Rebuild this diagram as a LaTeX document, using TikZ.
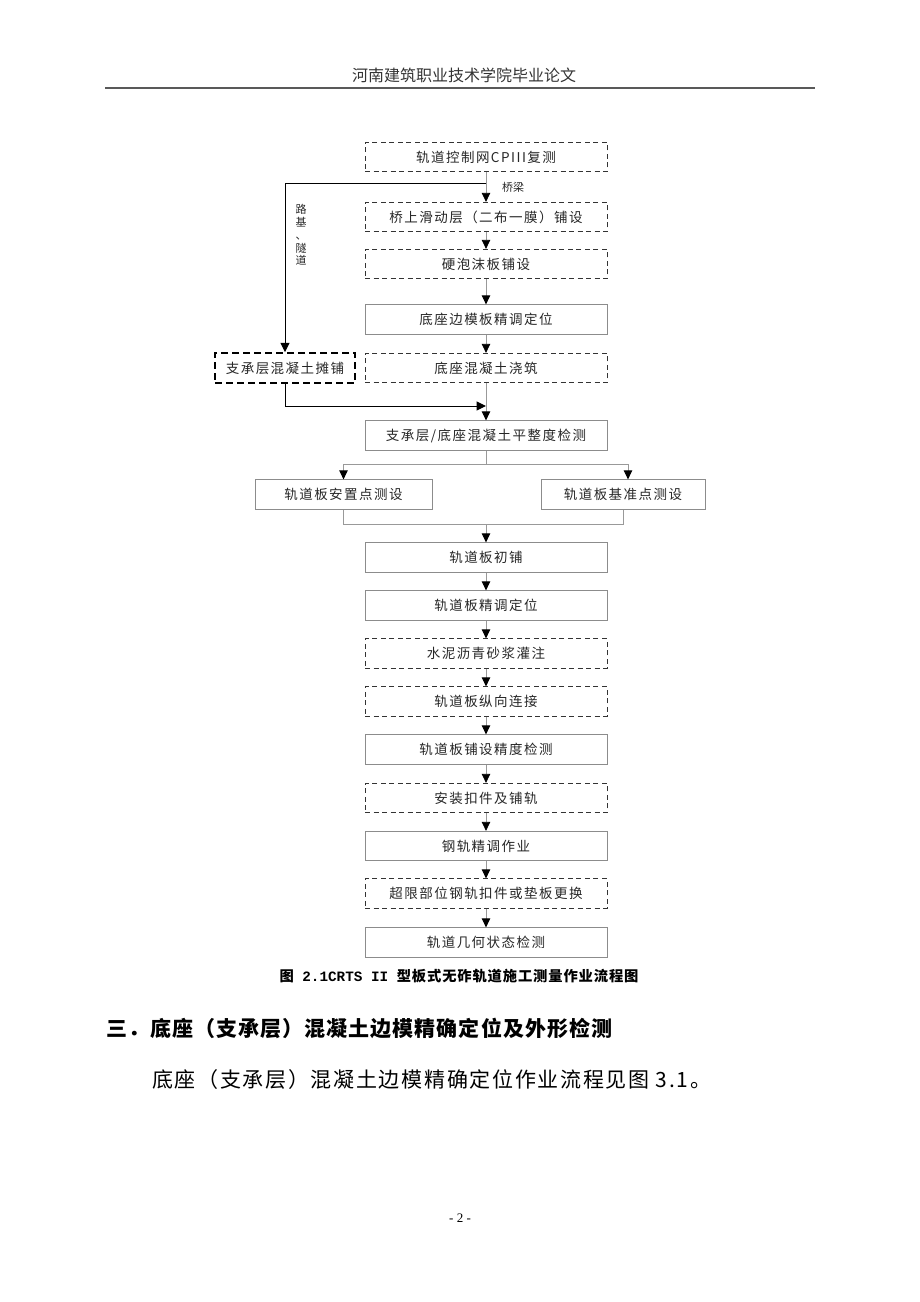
\documentclass[tikz,border=0pt]{standalone}
\usepackage{fontspec}
\setmainfont{Noto Sans CJK SC}
\newfontfamily\cjk{Noto Sans CJK SC}
\newfontfamily\cjksp{Noto Sans CJK SC}[LetterSpace=11]
\newfontfamily\cjkcap{Noto Sans CJK SC}[LetterSpace=6]
\newfontfamily\cjkhd{Noto Sans CJK SC}[LetterSpace=5]
\newfontfamily\cjkpar{Noto Sans CJK SC}[LetterSpace=8]
\newfontfamily\latmono{Liberation Mono}
\newfontfamily\pgnum{Liberation Serif}
\usetikzlibrary{arrows.meta}
\begin{document}
\begin{tikzpicture}[x=1pt,y=-1pt,
  every node/.style={inner sep=0pt,text=black!85},
  sbox/.style={draw=black!45,line width=0.8pt,minimum width=242pt,minimum height=29.5pt,font=\cjksp\fontsize{13.5}{16}\selectfont},
  dbox/.style={sbox,draw=black!80,dash pattern=on 5pt off 3.5pt},
  gline/.style={draw=black!40,line width=0.8pt},
  arr/.style={gline,-{Triangle[length=9pt,width=8.5pt,color=black]}},
  blk/.style={draw=black,line width=1pt,-{Triangle[length=9.5pt,width=9pt,color=black]}}
]
\useasboundingbox (0,0) rectangle (920,1302);
% header
\node[font=\cjk\fontsize{16}{18}\selectfont,text=black!80] (hdr) at (464,75) {河南建筑职业技术学院毕业论文};
\draw[black!65,line width=1.6pt] (105,88) -- (815,88);
% main column
\node[dbox] (b1) at (486,157) {轨道控制网CPIII复测};
\node[dbox] (b2) at (486,217) {桥上滑动层（二布一膜）铺设};
\node[dbox] (b3) at (486,264) {硬泡沫板铺设};
\node[sbox] (b4) at (486,319.5) {底座边模板精调定位};
\node[dbox] (b5) at (486,368) {底座混凝土浇筑};
\node[dbox,draw=black,line width=1.5pt,dash pattern=on 7pt off 4pt,minimum width=140pt,minimum height=30pt] (lb) at (285,368) {支承层混凝土摊铺};
\node[sbox] (b6) at (486,435.5) {支承层/底座混凝土平整度检测};
\node[sbox,minimum width=177pt] (sa) at (343.5,494.5) {轨道板安置点测设};
\node[sbox,minimum width=164pt] (sb) at (623,494.5) {轨道板基准点测设};
\node[sbox] (b7) at (486,557.5) {轨道板初铺};
\node[sbox] (b8) at (486,605.5) {轨道板精调定位};
\node[dbox] (b9) at (486,653.5) {水泥沥青砂浆灌注};
\node[dbox] (b10) at (486,701.5) {轨道板纵向连接};
\node[sbox] (b11) at (486,749.5) {轨道板铺设精度检测};
\node[dbox] (b12) at (486,798) {安装扣件及铺轨};
\node[sbox] (b13) at (486,846) {钢轨精调作业};
\node[dbox] (b14) at (486,893.5) {超限部位钢轨扣件或垫板更换};
\node[sbox] (b15) at (486,942.5) {轨道几何状态检测};
% labels
\node[font=\cjk\fontsize{11}{13}\selectfont] (lq) at (513,187) {桥梁};
\node[font=\cjk\fontsize{11}{12.8}\selectfont,align=center] (ls) at (301,235) {路\\基\\、\\隧\\道};
% connectors
\coordinate (j1) at (486,183);
\coordinate (j2) at (486,406);
\coordinate (s1) at (486,464);
\coordinate (m1) at (486,524);
\draw[arr] (b1) -- (b2);
\draw[blk] (j1) -| (lb.north);
\draw[arr] (b2) -- (b3);
\draw[arr] (b3) -- (b4);
\draw[arr] (b4) -- (b5);
\draw[arr] (b5) -- (b6);
\draw[blk] (lb.south) |- (j2);
\draw[gline] (b6) -- (s1);
\draw[arr] (s1) -| (sa.north);
\draw[arr] (s1) -| ([xshift=5pt]sb.north);
\draw[gline] (sa.south) |- (m1);
\draw[gline] (sb.south) |- (m1);
\draw[arr] (m1) -- (b7.north);
\draw[arr] (b7) -- (b8);
\draw[arr] (b8) -- (b9);
\draw[arr] (b9) -- (b10);
\draw[arr] (b10) -- (b11);
\draw[arr] (b11) -- (b12);
\draw[arr] (b12) -- (b13);
\draw[arr] (b13) -- (b14);
\draw[arr] (b14) -- (b15);
% caption and text
\node[font=\cjkcap\bfseries\fontsize{14.3}{16}\selectfont,text=black] (cap) at (459,976) {图{\latmono\bfseries\ 2.1CRTS II }型板式无砟轨道施工测量作业流程图};
\node[font=\cjkhd\bfseries\fontsize{21}{24}\selectfont,text=black,anchor=west] (hd) at (106,1028) {三．底座（支承层）混凝土边模精确定位及外形检测};
\node[font=\cjkpar\fontsize{21}{24}\selectfont,text=black,anchor=west] (par) at (152,1080) {底座（支承层）混凝土边模精确定位作业流程见图 3.1。};
\node[font=\pgnum\fontsize{13}{15}\selectfont,text=black] (pg) at (460,1218) {- 2 -};
\end{tikzpicture}
\end{document}
